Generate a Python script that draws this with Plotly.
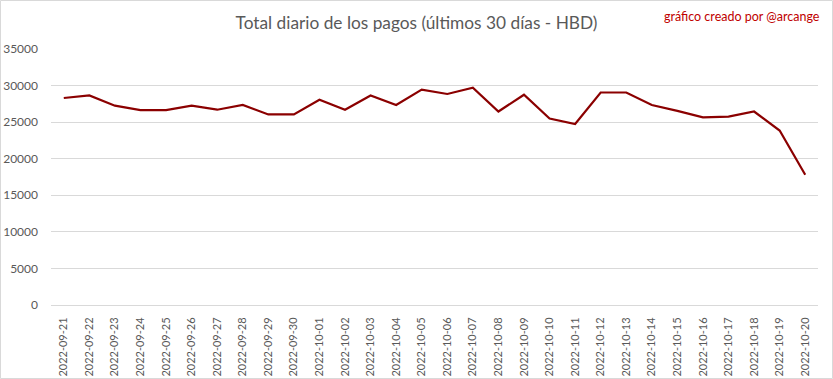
import plotly.graph_objects as go

dates = ["2022-09-21","2022-09-22","2022-09-23","2022-09-24","2022-09-25","2022-09-26",
         "2022-09-27","2022-09-28","2022-09-29","2022-09-30","2022-10-01","2022-10-02",
         "2022-10-03","2022-10-04","2022-10-05","2022-10-06","2022-10-07","2022-10-08",
         "2022-10-09","2022-10-10","2022-10-11","2022-10-12","2022-10-13","2022-10-14",
         "2022-10-15","2022-10-16","2022-10-17","2022-10-18","2022-10-19","2022-10-20"]
totals = [28300, 28650, 27250, 26650, 26650, 27250, 26700, 27350, 26050, 26050,
          28050, 26700, 28650, 27350, 29450, 28850, 29700, 26450, 28750, 25500,
          24750, 29050, 29050, 27350, 26550, 25650, 25750, 26450, 23850, 17800]
y_ticks = [0, 5000, 10000, 15000, 20000, 25000, 30000, 35000]
y_tick_labels = ["0", "5000", "10000", "15000", "20000", "25000", "30000", "35000"]

title_text = "Total diario de los pagos (últimos 30 días - HBD)"
credit_text = "gráfico creado por @arcange"

fig = go.Figure()
fig.add_trace(go.Scatter(x=dates, y=totals, mode="lines",
                         line=dict(color="#8B0000", width=2.2), showlegend=False))

fig.update_layout(
    width=833, height=379,
    margin=dict(l=51, r=15, t=49, b=74, autoexpand=False),
    paper_bgcolor="white", plot_bgcolor="white",
    font=dict(family="Lato, Carlito, sans-serif", color="#595959"),
    title=dict(text=title_text, x=0.5, xanchor="center", y=0.94, yanchor="middle",
               font=dict(size=17.3, color="#595959", family="Lato, sans-serif")),
    annotations=[dict(text=credit_text, xref="paper", yref="paper",
                      x=(822 - 51) / 767, y=1 + (49 - 16) / 256, xanchor="right", yanchor="middle",
                      showarrow=False,
                      font=dict(size=12.5, color="#C00000", family="Lato, sans-serif"))],
    shapes=[dict(type="rect", xref="paper", yref="paper",
                 x0=-51 / 767 + 0.5 / 767, x1=1 + 14.5 / 767,
                 y0=-74 / 256 + 0.5 / 256, y1=1 + 48.5 / 256,
                 line=dict(color="#D9D9D9", width=1))],
)
fig.update_xaxes(type="category", range=[-0.5, len(dates) - 0.5], tickangle=-90,
                 showgrid=False, showline=True, automargin=False,
                 linecolor="#D9D9D9", linewidth=1, ticks="",
                 tickfont=dict(size=11, color="#595959"), ticklabelstandoff=7)
fig.update_yaxes(range=[0, 35000], tickvals=y_ticks, ticktext=y_tick_labels,
                 showgrid=True, gridcolor="#D9D9D9", automargin=False,
                 gridwidth=1, zeroline=False, showline=False, ticks="",
                 tickfont=dict(size=12, color="#595959"), ticklabelstandoff=12)

fig.write_html("out.html", config={"displayModeBar": False},
               post_script="document.body.style.margin='0';document.body.style.overflow='hidden';")
